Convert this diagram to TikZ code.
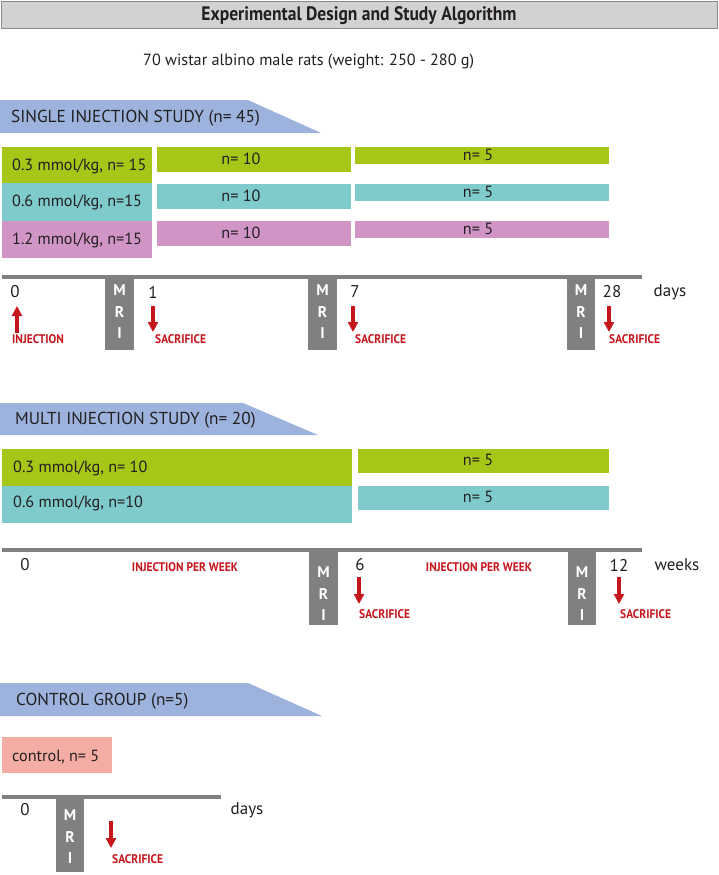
\documentclass[tikz,border=0pt]{standalone}
\usepackage{fontspec}
\setmainfont{PT Sans}
\newfontfamily\condfont[FakeStretch=0.92]{PT Sans}
\newfontfamily\titlefont[FakeStretch=0.9]{PT Sans}
\usetikzlibrary{arrows.meta}
\definecolor{hdrgray}{HTML}{D2D2D2}
\definecolor{hdredge}{HTML}{8A8A8A}
\definecolor{bannerblue}{HTML}{9DB3DE}
\definecolor{dgreen}{HTML}{A6C618}
\definecolor{dteal}{HTML}{7FCACB}
\definecolor{dpink}{HTML}{D195C5}
\definecolor{dsalmon}{HTML}{F4ADA5}
\definecolor{tlgray}{HTML}{808080}
\definecolor{sred}{HTML}{C4161C}
\definecolor{txt}{HTML}{231F20}
\tikzset{
  every node/.style={text=txt, inner sep=0pt},
  body/.style={font=\fontsize{16.2}{18}\selectfont},
  bannertxt/.style={font=\fontsize{17.3}{19}\selectfont, anchor=west},
  banner/.style={fill=bannerblue, draw=none},
  tline/.style={draw=tlgray, line width=4pt},
  mribar/.style={fill=tlgray, draw=none},
  mritxt/.style={text=white, font=\bfseries\fontsize{15.5}{21.5}\selectfont, align=center},
  redfont/.style={text=sred, font=\condfont\bfseries\fontsize{12.5}{14}\selectfont},
  redlbl/.style={redfont, anchor=west},
  redarrow/.style={draw=sred, line width=3.2pt, -{Triangle[length=10pt,width=10pt]}},
  tnum/.style={font=\fontsize{17}{19}\selectfont}
}
\begin{document}
\begin{tikzpicture}[x=1pt,y=-1pt]
\useasboundingbox (0,0) rectangle (718,875);
% header
\draw[fill=hdrgray, draw=hdredge, line width=1pt] (1,2) rectangle (717,29);
\node[font=\titlefont\bfseries\fontsize{19.5}{21}\selectfont] (title) at (359,16) {Experimental Design and Study Algorithm};
\node[body, anchor=west] (rats) at (143,62) {70 wistar albino male rats (weight: 250 - 280 g)};

% ===== single injection =====
\fill[banner] (0,100) -- (248,100) -- (321,133) -- (0,133) -- cycle;
\node[bannertxt] (single) at (11,118) {SINGLE INJECTION STUDY (n= 45)};

\fill[dgreen] (2,147) rectangle (152,183);
\fill[dteal] (2,183) rectangle (152,221);
\fill[dpink] (2,221) rectangle (152,258);
\node[body, anchor=west] (s03) at (12,166) {0.3 mmol/kg, n= 15};
\node[body, anchor=west] (s06) at (12,202) {0.6 mmol/kg, n=15};
\node[body, anchor=west] (s12) at (12,240) {1.2 mmol/kg, n=15};

\fill[dgreen] (157,147) rectangle (351,172);
\fill[dteal] (157,184) rectangle (351,209);
\fill[dpink] (157,221) rectangle (351,246);
\node[body] (s03a) at (241,159) {n= 10};
\node[body] (s06a) at (241,196) {n= 10};
\node[body] (s12a) at (241,233) {n= 10};

\fill[dgreen] (355,147) rectangle (609,164);
\fill[dteal] (355,184) rectangle (609,201);
\fill[dpink] (355,221) rectangle (609,238);
\node[body] (s03b) at (478,155) {n= 5};
\node[body] (s06b) at (478,192) {n= 5};
\node[body] (s12b) at (478,229) {n= 5};

% timeline 1
\coordinate (t1a) at (2,276.5);
\coordinate (t1b) at (642,276.5);
\draw[tline] (t1a) -- (t1b);
\fill[mribar] (105,276) rectangle (134,350);
\fill[mribar] (308,276) rectangle (337,350);
\fill[mribar] (567,276) rectangle (595,350);
\node[mritxt] (mri1) at (119.5,312) {M\\R\\I};
\node[mritxt] (mri2) at (322.5,312) {M\\R\\I};
\node[mritxt] (mri3) at (581,312) {M\\R\\I};
\node[tnum] (d0) at (15,292) {0};
\node[tnum] (d1) at (153,292) {1};
\node[tnum] (d7) at (355,292) {7};
\node[tnum] (d28) at (612,292) {28};
\node[tnum] (days1) at (670,292) {days};
\coordinate (a0s) at (17,333); \coordinate (a0e) at (17,306);
\draw[redarrow] (a0s) -- (a0e);
\coordinate (a1s) at (153,306); \coordinate (a1e) at (153,332);
\draw[redarrow] (a1s) -- (a1e);
\coordinate (a7s) at (353,306); \coordinate (a7e) at (353,332);
\draw[redarrow] (a7s) -- (a7e);
\coordinate (a28s) at (609,306); \coordinate (a28e) at (609,332);
\draw[redarrow] (a28s) -- (a28e);
\node[redlbl] (inj) at (12,339) {INJECTION};
\node[redlbl] (sac1) at (155,339) {SACRIFICE};
\node[redlbl] (sac7) at (355,339) {SACRIFICE};
\node[redlbl] (sac28) at (609,339) {SACRIFICE};

% ===== multi injection =====
\fill[banner] (0,403) -- (243,403) -- (318,435) -- (0,435) -- cycle;
\node[bannertxt] (multi) at (15,420) {MULTI INJECTION STUDY (n= 20)};
\fill[dgreen] (2,449) rectangle (352,486);
\fill[dteal] (2,486) rectangle (352,523);
\node[body, anchor=west] (m03) at (13,468) {0.3 mmol/kg, n= 10};
\node[body, anchor=west] (m06) at (13,503) {0.6 mmol/kg, n=10};
\fill[dgreen] (358,449) rectangle (609,473);
\fill[dteal] (358,486) rectangle (609,510);
\node[body] (m03b) at (478,460) {n= 5};
\node[body] (m06b) at (478,497) {n= 5};

% timeline 2
\coordinate (t2a) at (2,550);
\coordinate (t2b) at (642,550);
\draw[tline] (t2a) -- (t2b);
\fill[mribar] (309,550) rectangle (338,625);
\fill[mribar] (568,550) rectangle (596,625);
\node[mritxt] (mri4) at (323.5,594) {M\\R\\I};
\node[mritxt] (mri5) at (582,594) {M\\R\\I};
\node[tnum] (w0) at (25,565) {0};
\node[tnum] (w6) at (360,565) {6};
\node[tnum] (w12) at (619,565) {12};
\node[tnum] (weeks) at (677,565) {weeks};
\node[redfont] (ipw1) at (185,567) {INJECTION PER WEEK};
\node[redfont] (ipw2) at (479,567) {INJECTION PER WEEK};
\coordinate (a6s) at (359,577); \coordinate (a6e) at (359,604);
\draw[redarrow] (a6s) -- (a6e);
\coordinate (a12s) at (619,577); \coordinate (a12e) at (619,604);
\draw[redarrow] (a12s) -- (a12e);
\node[redlbl] (sac6) at (359,614) {SACRIFICE};
\node[redlbl] (sac12) at (620,614) {SACRIFICE};

% ===== control =====
\fill[banner] (0,683) -- (248,683) -- (322,716) -- (0,716) -- cycle;
\node[bannertxt] (ctrl) at (16,701) {CONTROL GROUP (n=5)};
\fill[dsalmon] (2,737) rectangle (112,773);
\node[body, anchor=west] (ctrlbox) at (12,757) {control, n= 5};
\coordinate (t3a) at (2,797);
\coordinate (t3b) at (221,797);
\draw[tline] (t3a) -- (t3b);
\fill[mribar] (56,797) rectangle (84,872);
\node[mritxt] (mri6) at (70,837) {M\\R\\I};
\node[tnum] (c0) at (25,810) {0};
\node[tnum] (cdays) at (247,810) {days};
\coordinate (acs) at (111,821); \coordinate (ace) at (111,848);
\draw[redarrow] (acs) -- (ace);
\node[redlbl] (sacc) at (112,859) {SACRIFICE};
\end{tikzpicture}
\end{document}
